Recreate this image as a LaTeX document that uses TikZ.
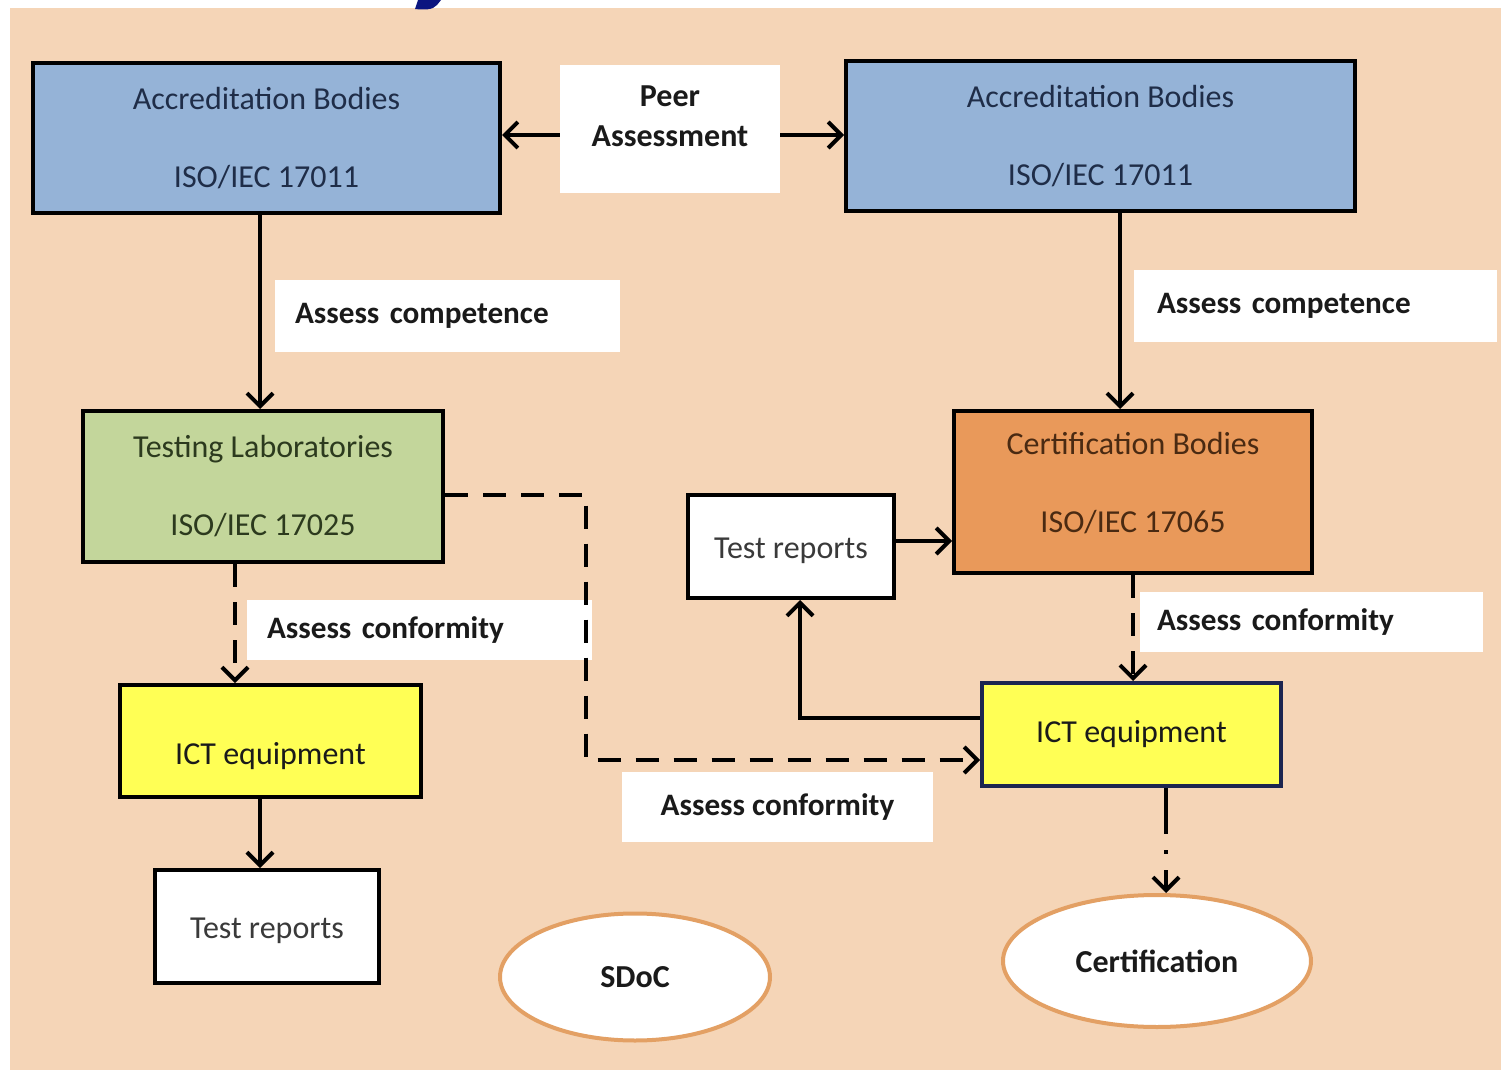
\documentclass[tikz,border=0pt]{standalone}
\usepackage{fontspec}
\setmainfont{Carlito}
\usetikzlibrary{arrows.meta,shapes.geometric}

\definecolor{peach}{HTML}{F5D5B7}
\definecolor{abfill}{HTML}{95B3D7}
\definecolor{tlfill}{HTML}{C3D69B}
\definecolor{cbfill}{HTML}{E9995A}
\definecolor{ictfill}{HTML}{FFFF55}
\definecolor{ovalline}{HTML}{E3A064}
\definecolor{abtext}{HTML}{1F2D48}
\definecolor{tltext}{HTML}{2C3A1E}
\definecolor{cbtext}{HTML}{4A2A12}
\definecolor{grtext}{HTML}{3A3A3A}
\definecolor{labtext}{HTML}{1A1A1A}
\definecolor{navyline}{HTML}{1C2550}
\definecolor{titleblue}{HTML}{0B1580}

\tikzset{
  box/.style={draw=black, line width=2pt, inner sep=0pt, align=center,
    font=\fontsize{16}{18}\selectfont},
  inbox/.style={inner sep=0pt, align=center, font=\fontsize{16}{18}\selectfont},
  tag/.style={fill=white, inner sep=0pt, text=labtext,
    font=\bfseries\fontsize{15.6}{18}\selectfont},
  oval/.style={ellipse, draw=ovalline, line width=2pt, fill=white, inner sep=0pt,
    text=labtext, font=\bfseries\fontsize{16}{18}\selectfont},
  arr/.style={line width=2pt, -{Straight Barb[length=6.5pt,width=13pt]}},
  dashline/.style={arr, dash pattern=on 11.5pt off 7.5pt},
  dotline/.style={arr, dash pattern=on 23pt off 8pt on 2pt off 8pt}
}

\begin{document}
\begin{tikzpicture}[x=0.5pt,y=-0.5pt]
\useasboundingbox (0,0) rectangle (1501,1070);
\fill[white] (0,0) rectangle (1501,1070);
\fill[peach] (10,8) rectangle (1501,1070);
% cropped heading glyph at the top edge
\fill[titleblue] (418,0) -- (441,0) -- (437,5) .. controls (433,10) and (424,10) .. (415,9) -- cycle;

% accreditation level
\node[box, fill=abfill, text=abtext, minimum width=233.5pt, minimum height=75pt]
  (ab1) at (266.5,138) {Accreditation Bodies\\[21pt]ISO/IEC 17011};
\node[box, fill=abfill, text=abtext, minimum width=254.5pt, minimum height=75pt]
  (ab2) at (1100.5,136) {Accreditation Bodies\\[21pt]ISO/IEC 17011};
\node[fill=white, inner sep=0pt, minimum width=110pt, minimum height=64pt,
  label={[inbox, text=labtext, yshift=6.5pt, font=\bfseries\fontsize{16}{20}\selectfont]center:Peer\\Assessment}]
  (peer) at (670,129) {};

% competence labels
\node[tag, align=left, minimum width=172.5pt, minimum height=36pt, text width=152.5pt]
  (compL) at (447.5,316) {Assess competence};
\node[tag, align=left, minimum width=181.5pt, minimum height=36pt, text width=158.5pt]
  (compR) at (1315.5,306) {Assess competence};

% conformity assessment bodies
\node[box, fill=tlfill, text=tltext, minimum width=180pt, minimum height=75.5pt]
  (tl) at (263,486.5) {Testing Laboratories\\[21pt]ISO/IEC 17025};
\node[box, fill=cbfill, minimum width=179pt, minimum height=81pt,
  label={[inbox, text=cbtext, yshift=4.25pt]center:Certification Bodies\\[21pt]ISO/IEC 17065}]
  (cb) at (1133,492) {};
\node[box, fill=white, minimum width=103pt, minimum height=51.5pt,
  label={[inbox, text=grtext, yshift=-2pt]center:Test reports}]
  (trR) at (791,546.5) {};

% conformity labels
\node[tag, align=left, minimum width=172.5pt, minimum height=30pt, text width=152.5pt]
  (confL) at (419.5,630) {Assess conformity};
\node[tag, align=left, minimum width=171.5pt, minimum height=30pt, text width=154.5pt]
  (confR) at (1311.5,622) {Assess conformity};
\node[tag, align=center, minimum width=155.5pt, minimum height=35pt]
  (confM) at (777.5,807) {Assess conformity};

% equipment
\node[box, fill=ictfill, minimum width=150.5pt, minimum height=56pt,
  label={[inbox, text=labtext, yshift=-7.5pt]center:ICT equipment}]
  (ictL) at (270.5,741) {};
\node[box, draw=navyline, fill=ictfill, text=labtext, minimum width=149.5pt, minimum height=51.5pt]
  (ictR) at (1131.5,734.5) {ICT equipment};
\node[box, fill=white, minimum width=112pt, minimum height=56.5pt,
  label={[inbox, text=grtext, yshift=-2pt]center:Test reports}]
  (trL) at (267,926.5) {};

% outcomes
\node[oval, minimum width=135pt, minimum height=63.5pt] (sdoc) at (635,977) {SDoC};
\node[oval, minimum width=154pt, minimum height=66pt] (cert) at (1157,961) {Certification};

% connectors
\draw[arr] ([yshift=-3pt]peer.west) -- ([yshift=-3pt]peer.west -| ab1.east);
\draw[arr] ([yshift=-3pt]peer.east) -- ([yshift=-3pt]peer.east -| ab2.west);
\draw[arr] ([xshift=-1.5pt]tl.north |- ab1.south) -- ([xshift=-1.5pt]tl.north);
\draw[arr] ([xshift=-6.5pt]cb.north |- ab2.south) -- ([xshift=-6.5pt]cb.north);
\draw[dashline] ([xshift=-14pt]tl.south) -- ([xshift=-14pt]tl.south |- ictL.north);
\draw[arr] ([xshift=-3.5pt]trL.north |- ictL.south) -- ([xshift=-3.5pt]trL.north);
\draw[dashline] ([yshift=-4pt]tl.east) -- ++(141,0) |- ([yshift=-12.75pt]ictR.west);
\draw[dashline] (cb.south) -- (cb.south |- ictR.north);
\draw[arr] ([yshift=2.75pt]trR.east) -- ([yshift=2.75pt]trR.east -| cb.west);
\draw[arr] ([yshift=8.25pt]ictR.west) -| ([xshift=4.5pt]trR.south);
\draw[dotline] ([xshift=17.25pt]ictR.south) -- ([xshift=17.25pt]ictR.south |- cert.north);
\end{tikzpicture}
\end{document}
